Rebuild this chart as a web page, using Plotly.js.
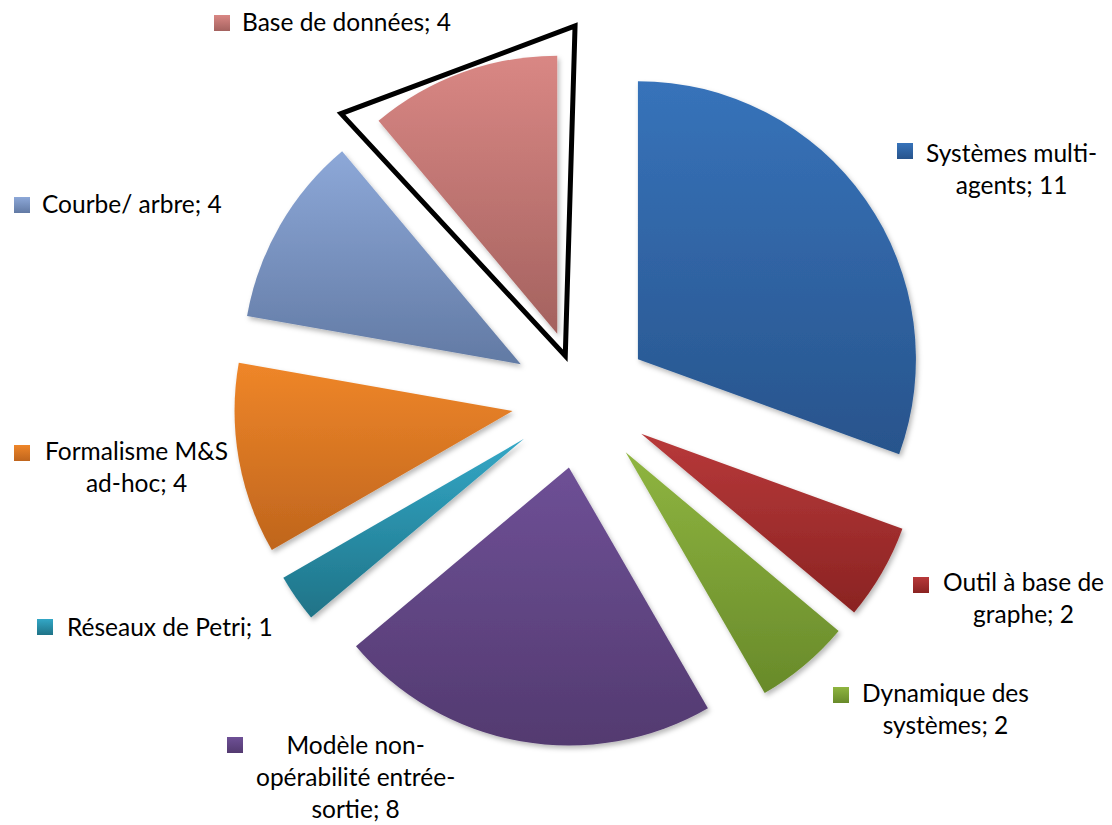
<!DOCTYPE html>
<html>
<head>
<meta charset="utf-8">
<script src="https://cdn.plot.ly/plotly-3.0.1.min.js"></script>
<style>
html,body{margin:0;padding:0;background:#ffffff;}
#chart{width:1112px;height:825px;}
</style>
</head>
<body>
<div id="chart"></div>
<script>
// ---------- DATA ----------
const categories = [
  "Systèmes multi-agents",
  "Outil à base de graphe",
  "Dynamique des systèmes",
  "Modèle non-opérabilité entrée-sortie",
  "Réseaux de Petri",
  "Formalisme M&S ad-hoc",
  "Courbe/ arbre",
  "Base de données"
];
const values = [11, 2, 2, 8, 1, 4, 4, 4];
// display text of each category, with the line breaks of the picture
const categoryLabels = [
  "Systèmes multi-<br>agents",
  "Outil à base de<br>graphe",
  "Dynamique des<br>systèmes",
  "Modèle non-<br>opérabilité entrée-<br>sortie",
  "Réseaux de Petri",
  "Formalisme M&S<br>ad-hoc",
  "Courbe/ arbre",
  "Base de données"
];
const highlighted = "Base de données";

// ---------- STYLE ----------
const colorsMid    = ["#2F62A2", "#A22E2C", "#7DA035", "#614583", "#2A8EA8", "#D97523", "#7891BE", "#C07472"];
const colorsTop    = ["#3773BA", "#B8393A", "#8FB540", "#6E5096", "#33A7C6", "#EF8629", "#8DA8D8", "#D98784"];
const colorsBottom = ["#28548C", "#8A2322", "#688A2A", "#533A70", "#1F7387", "#BF651D", "#627AA4", "#A4625F"];

const W = 1112, H = 825;
const CX = 581, CY = 399, R = 278, PULL = 0.25;   // pie geometry in px
const FONT = "Lato, 'Open Sans', sans-serif";
const FONT_SIZE = 24.5;
const LINE_H = 30;
// label anchor: [centre x of the text block, first baseline y] in px
const labelAnchor = [[1011,162],[1023,591],[945,702],[355,755],[170,635],[136,460],[132,212],[346,30]];
// legend square centres in px
const squareCentre = [[905,151],[921,585],[841,695],[235,745],[45,627],[22,453],[22,205],[222,23]];
const SQ = 16;
// highlight outline geometry
const OUT_R = 330, OUT_PULL = 46, OUT_PAD_START = 2.8, OUT_PAD_END = 1.7, OUT_W = 5;

// ---------- BUILD ----------
const half = R * (1 + PULL);
const domain = {
  x: [(CX - half) / W, (CX + half) / W],
  y: [1 - (CY + half) / H, 1 - (CY - half) / H]
};

const pieTrace = {
  type: "pie",
  labels: categories,
  values: values,
  sort: false,
  direction: "clockwise",
  rotation: 0,
  pull: values.map(() => PULL),
  marker: { colors: colorsMid, line: { width: 0 } },
  textinfo: "none",
  hoverinfo: "none",
  showlegend: false,
  domain: domain
};

const total = values.reduce((a, b) => a + b, 0);
const px = x => x / W, py = y => 1 - y / H;
function dir(deg) { const a = deg * Math.PI / 180; return [Math.sin(a), -Math.cos(a)]; }

// highlight outline derived from the slice angles
const hi = categories.indexOf(highlighted);
const startDeg = values.slice(0, hi).reduce((a, b) => a + b, 0) / total * 360;
const endDeg = startDeg + values[hi] / total * 360;
const midDir = dir((startDeg + endDeg) / 2);
const apex = [CX + OUT_PULL * midDir[0], CY + OUT_PULL * midDir[1]];
const d0 = dir(startDeg - OUT_PAD_START), d1 = dir(endDeg + OUT_PAD_END);
const c0 = [apex[0] + OUT_R * d0[0], apex[1] + OUT_R * d0[1]];
const c1 = [apex[0] + OUT_R * d1[0], apex[1] + OUT_R * d1[1]];

const shapes = [{
  type: "path", xref: "paper", yref: "paper",
  path: `M ${px(apex[0])},${py(apex[1])} L ${px(c0[0])},${py(c0[1])} L ${px(c1[0])},${py(c1[1])} Z`,
  line: { color: "#000000", width: OUT_W },
  fillcolor: "rgba(0,0,0,0)"
}];
squareCentre.forEach((c, i) => {
  shapes.push({
    type: "rect", xref: "paper", yref: "paper",
    x0: px(c[0] - SQ / 2), x1: px(c[0] + SQ / 2),
    y0: py(c[1] + SQ / 2), y1: py(c[1] - SQ / 2),
    line: { width: 0 }, fillcolor: colorsMid[i]
  });
});

const annotations = categoryLabels.map((lab, i) => {
  const nLines = lab.split("<br>").length;
  const [ax, base] = labelAnchor[i];
  const cy = base + (nLines - 1) * LINE_H / 2 - 0.33 * FONT_SIZE;
  return {
    xref: "paper", yref: "paper",
    x: px(ax), y: py(cy),
    xanchor: "center", yanchor: "middle",
    align: "center",
    showarrow: false,
    text: lab + "; " + values[i],
    font: { family: FONT, size: FONT_SIZE, color: "#000000" }
  };
});

const layout = {
  width: W, height: H,
  margin: { l: 0, r: 0, t: 0, b: 0 },
  paper_bgcolor: "#ffffff",
  plot_bgcolor: "#ffffff",
  showlegend: false,
  shapes: shapes,
  annotations: annotations
};

Plotly.newPlot("chart", [pieTrace], layout, { staticPlot: true, displayModeBar: false }).then(gd => {
  try {
    const NS = "http://www.w3.org/2000/svg";
    const svg = gd.querySelector(".main-svg");
    let defs = svg.querySelector("defs");
    if (!defs) { defs = document.createElementNS(NS, "defs"); svg.insertBefore(defs, svg.firstChild); }
    colorsTop.forEach((c, i) => {
      const lg = document.createElementNS(NS, "linearGradient");
      lg.setAttribute("id", "sg" + i);
      lg.setAttribute("x1", "0"); lg.setAttribute("y1", "0");
      lg.setAttribute("x2", "0"); lg.setAttribute("y2", "1");
      [[0, c], [1, colorsBottom[i]]].forEach(([o, col]) => {
        const st = document.createElementNS(NS, "stop");
        st.setAttribute("offset", o);
        st.setAttribute("stop-color", col);
        lg.appendChild(st);
      });
      defs.appendChild(lg);
    });
    const f = document.createElementNS(NS, "filter");
    f.setAttribute("id", "slshadow");
    f.setAttribute("x", "-20%"); f.setAttribute("y", "-20%");
    f.setAttribute("width", "140%"); f.setAttribute("height", "140%");
    const ds = document.createElementNS(NS, "feDropShadow");
    ds.setAttribute("dx", "2"); ds.setAttribute("dy", "3");
    ds.setAttribute("stdDeviation", "2.5");
    ds.setAttribute("flood-color", "#000"); ds.setAttribute("flood-opacity", "0.28");
    f.appendChild(ds);
    defs.appendChild(f);

    gd.querySelectorAll(".pielayer .slice").forEach((s, k) => {
      const idx = (s.__data__ && s.__data__.i != null) ? s.__data__.i : k;
      const p = s.querySelector("path.surface");
      if (p) { p.style.fill = "url(#sg" + idx + ")"; p.setAttribute("filter", "url(#slshadow)"); }
    });
    gd.querySelectorAll(".shapelayer path").forEach(p => {
      const di = +p.getAttribute("data-index");
      if (di >= 1 && di <= colorsTop.length) p.style.fill = "url(#sg" + (di - 1) + ")";
    });
  } catch (e) { console.log(e); }
});
</script>
</body>
</html>
